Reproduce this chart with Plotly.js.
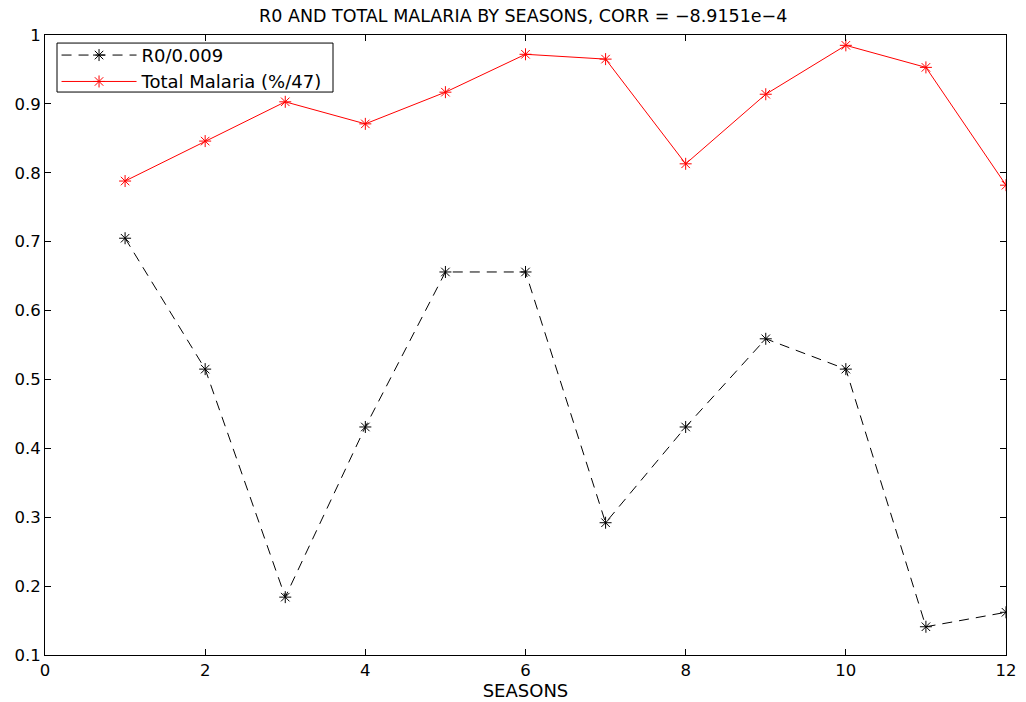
<!DOCTYPE html>
<html><head><meta charset="utf-8">
<script src="https://cdn.plot.ly/plotly-3.0.1.min.js"></script>
<style>body{margin:0;background:#fff}#chart{width:1026px;height:702px}</style>
</head><body><div id="chart"></div>
<script>
const seasons = [1,2,3,4,5,6,7,8,9,10,11,12];
const r0Scaled = [0.705,0.515,0.184,0.431,0.656,0.656,0.292,0.431,0.559,0.515,0.141,0.162];
const malariaScaled = [0.788,0.846,0.903,0.871,0.917,0.972,0.965,0.813,0.914,0.985,0.953,0.782];
const xTicks = [0,2,4,6,8,10,12];
const yTicks = [0.1,0.2,0.3,0.4,0.5,0.6,0.7,0.8,0.9,1];
const yTickText = ['0.1','0.2','0.3','0.4','0.5','0.6','0.7','0.8','0.9','1'];

const FONT = 'DejaVu Sans, Liberation Sans, Arial, sans-serif';
const traces = [
  {x: seasons, y: r0Scaled, name: 'R0/0.009', mode: 'lines+markers', type: 'scatter',
   line: {color: '#000', width: 1, dash: '10px,7px'},
   marker: {symbol: 'asterisk-open', size: 10, color: '#000', line: {color: '#000', width: 1}}},
  {x: seasons, y: malariaScaled, name: 'Total Malaria (%/47)', mode: 'lines+markers', type: 'scatter',
   line: {color: '#ff0000', width: 1},
   marker: {symbol: 'asterisk-open', size: 10, color: '#ff0000', line: {color: '#ff0000', width: 1}}}
];
const axisCommon = {showgrid: false, zeroline: false, showline: true, mirror: 'ticks',
  linecolor: '#000', linewidth: 1, ticks: 'inside', ticklen: 6, tickcolor: '#000',
  tickfont: {family: FONT, size: 16.5, color: '#000'}};
const layout = {
  width: 1026, height: 702,
  margin: {l: 45, r: 20, t: 35, b: 47},
  paper_bgcolor: '#fff', plot_bgcolor: '#fff',
  font: {family: FONT, color: '#000'},
  title: {text: 'R0 AND TOTAL MALARIA BY SEASONS, CORR = \u22128.9151e\u22124',
    font: {size: 17.5, color: '#000'}, x: 0.51, xanchor: 'center', y: 0.986, yanchor: 'top'},
  xaxis: Object.assign({}, axisCommon, {range: [0, 12], tickvals: xTicks,
    title: {text: 'SEASONS', font: {size: 18, color: '#000'}, standoff: 1}}),
  yaxis: Object.assign({}, axisCommon, {range: [0.1, 1], tickvals: yTicks, ticktext: yTickText}),
  showlegend: true,
  legend: {x: 0.012, y: 0.997, xanchor: 'left', yanchor: 'top',
    bgcolor: 'rgba(0,0,0,0)', borderwidth: 0, itemwidth: 75,
    font: {size: 18, color: '#000'}, tracegroupgap: 0},
  shapes: [{type: 'rect', xref: 'paper', yref: 'paper', layer: 'above',
    x0: 0.0125, x1: 0.2997, y0: 0.908, y1: 0.987,
    fillcolor: '#fff', line: {color: '#000', width: 1}}]
};
Plotly.newPlot('chart', traces, layout, {displayModeBar: false});
</script></body></html>
